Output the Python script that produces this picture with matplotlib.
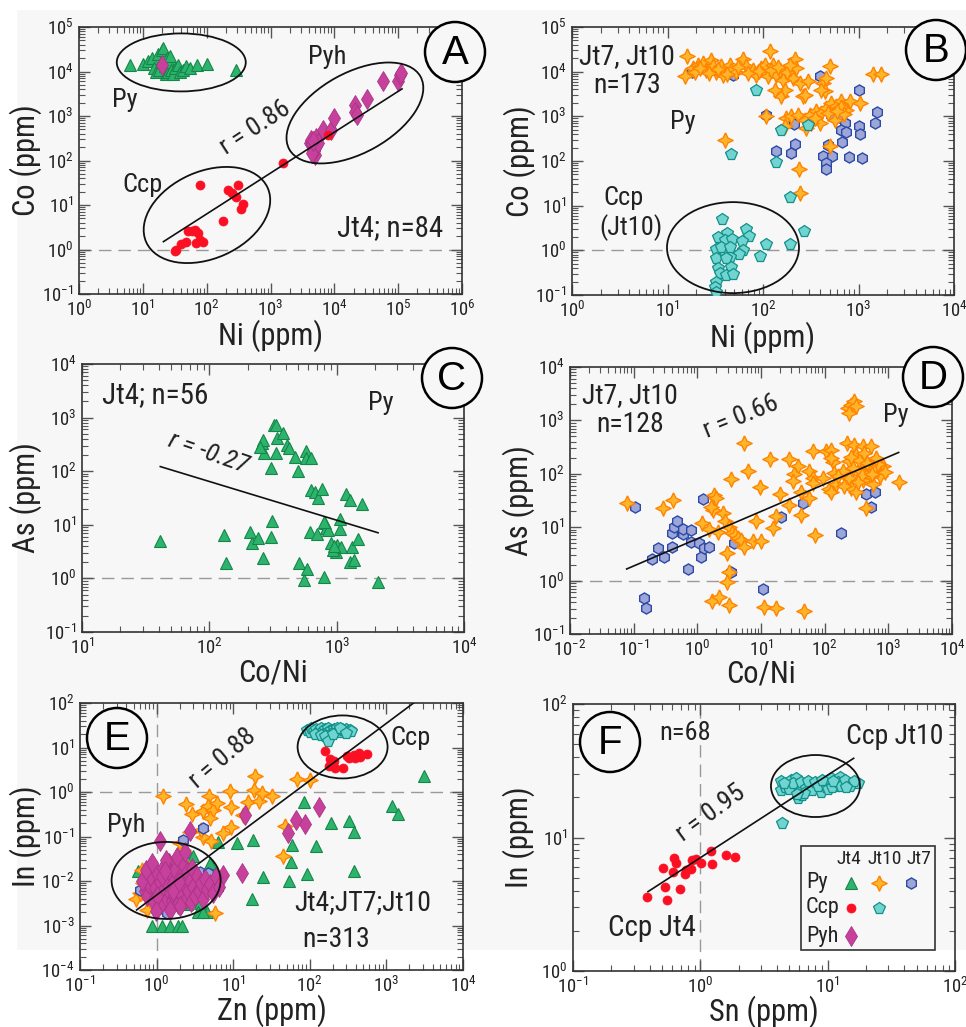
import numpy as np
import matplotlib
matplotlib.use('Agg')
import matplotlib.pyplot as plt
from matplotlib import font_manager
from matplotlib.patches import Ellipse, Rectangle
from matplotlib.transforms import ScaledTranslation
from matplotlib.ticker import LogLocator, NullFormatter

# pick a narrow sans face if one is installed (the figure uses an Arial-Narrow look)
FONT, STRETCH = 'Liberation Sans', 'normal'
narrow = [f for f in font_manager.fontManager.ttflist
          if f.style == 'normal' and f.weight in (400, 'normal', 'regular')
          and (f.stretch in ('condensed', 'semi-condensed') or 'Narrow' in f.name or 'Condensed' in f.name)]
for want in ['Liberation Sans Narrow', 'Arial Narrow', 'Roboto Condensed', 'Noto Sans', 'Noto Sans Condensed',
             'Open Sans Condensed', 'Open Sans', 'DejaVu Sans']:
    hit = [f for f in narrow if f.name == want]
    if hit:
        FONT, STRETCH = hit[0].name, hit[0].stretch
        break
plt.rcParams['font.family'] = [FONT, 'DejaVu Sans']
plt.rcParams['font.stretch'] = STRETCH
plt.rcParams['mathtext.fontset'] = 'custom'
plt.rcParams['mathtext.rm'] = FONT
plt.rcParams['mathtext.it'] = FONT + ':italic'
plt.rcParams['mathtext.default'] = 'regular'

# ---------------- data ----------------
# A: Co vs Ni, Jt4
a_py = [(6.2, 1.4e4), (10, 1.5e4), (12, 1.7e4), (14, 2.0e4), (15, 1.2e4), (16, 1.0e4), (17, 2.5e4),
        (18, 1.1e4), (19, 1.6e4), (20, 3.0e4), (21, 3.3e4), (22, 1.3e4), (23, 9e3), (24, 2.0e4),
        (25, 1.0e4), (26, 1.6e4), (27, 2.2e4), (28, 1.1e4), (30, 9e3), (32, 1.2e4), (35, 1.4e4),
        (38, 1.0e4), (42, 1.1e4), (48, 1.3e4), (55, 1.2e4), (70, 1.4e4), (100, 1.5e4), (290, 1.1e4)]
a_pyh = [(20, 1.4e4), (4100, 245), (4650, 174), (5200, 208), (4900, 135), (4350, 296), (5200, 320),
         (6600, 490), (9000, 490), (1.0e4, 890), (2.1e4, 1780), (2.1e4, 1260), (2.3e4, 1070),
         (3.2e4, 2350), (5.8e4, 6000), (1.0e5, 6000), (1.05e5, 8500), (1.1e5, 9300), (4500, 230),
         (4800, 160), (5000, 190), (4400, 150), (5500, 250), (4700, 280)]
a_ccp = [(78, 27.6), (310, 27.6), (215, 22), (245, 18.6), (290, 15), (370, 10.7), (350, 8.3),
         (180, 4.3), (51, 2.6), (65, 2.8), (73, 2.35), (58, 2.6), (48, 1.5), (40, 1.3), (33, 1.0),
         (32, 0.92), (69, 1.4), (87, 1.45), (78, 1.65), (1580, 87), (7900, 380)]
a_fit = [(21, 1.5), (1.15e5, 4070)]

# B: Co vs Ni, Jt7 + Jt10
b_py10 = [(16.0, 2.29e4), (15.1, 7.85e3), (18.5, 1.21e4), (20.9, 1.44e4), (23.5, 1.56e4), (25.5, 1.10e4),
          (28.8, 1.86e4), (29.9, 1.32e4), (32.5, 1.0e4), (36.6, 1.32e4), (38.1, 8.57e3), (44.8, 1.44e4),
          (46.6, 1.10e4), (52.6, 1.0e4), (61.8, 1.90e4), (66.9, 1.32e4), (78.6, 1.10e4), (85.2, 8.57e3),
          (96.1, 1.21e4), (117, 2.86e4), (104, 1.44e4), (113, 7.85e3), (127, 1.44e4), (138, 8.57e3),
          (150, 1.10e4), (162, 6.58e3), (156, 2.80e3), (169, 3.94e3), (132, 3.94e3), (215, 1.90e4),
          (223, 1.21e4), (206, 7.21e3), (242, 5.57e3), (262, 2.80e3), (296, 6.07e3), (273, 3.05e3),
          (425, 5.57e3), (499, 1.36e4), (460, 7.21e3), (442, 3.62e3), (408, 3.94e3), (1418, 9.02e3),
          (1734, 9.02e3), (107, 995), (39.7, 299), (175, 914), (198, 1.03e3), (232, 1.09e3), (273, 840),
          (308, 1.09e3), (362, 1.29e3), (408, 1.18e3), (460, 1.53e3), (520, 1.98e3), (586, 1.67e3),
          (661, 2.16e3), (746, 1.41e3), (808, 2.16e3), (1028, 1.98e3), (562, 840), (392, 706), (321, 706),
          (284, 546), (499, 212), (238, 65.8), (242, 19.1), (169, 594), (19.5, 1.0e4), (22, 1.2e4),
          (27, 9.5e3), (34, 1.15e4), (42, 9e3), (55, 1.25e4), (70, 9.5e3), (90, 1.05e4), (120, 1.1e4),
          (145, 1.3e4), (180, 1.0e4), (190, 1.4e4), (650, 1.6e3), (700, 1.1e3), (350, 900), (480, 1.2e3),
          (600, 1.3e3)]
b_py7 = [(18.2, 9.66e3), (48.5, 8.57e3), (175, 8.13e3), (398, 8.13e3), (1005, 3.81e3), (107, 1.09e3),
         (1563, 1.22e3), (1476, 706), (625, 963), (716, 706), (661, 484), (746, 437), (1012, 594),
         (1028, 407), (511, 1.09e3), (211, 683), (136, 164), (198, 150), (218, 243), (425, 131),
         (532, 131), (460, 89.5), (453, 65.8), (677, 261), (480, 223), (789, 122), (1096, 114)]
b_ccp10 = [(85.2, 3810), (156, 501), (296, 649), (46.6, 143), (138, 92.7), (193, 16.0), (267, 2.72),
           (37.5, 4.97), (66.9, 3.07), (42.0, 2.50), (33.8, 1.96), (39.7, 1.71), (47.7, 1.83), (71.3, 2.10),
           (60.8, 1.65), (107, 1.37), (190, 1.37), (32.5, 1.06), (38.7, 0.99), (61.8, 1.02), (56.1, 0.83),
           (45.5, 0.70), (32.5, 0.66), (40.6, 0.66), (93.8, 0.75), (33.8, 0.40), (46.6, 0.43), (35.7, 0.31),
           (41.3, 0.28), (48.5, 0.30), (32.5, 0.20), (31.2, 0.154), (31.9, 0.117), (36.6, 1.21), (44.8, 1.21)]

# C: As vs Co/Ni, Jt4 pyrite
c_py = [(41.2, 4.96), (130, 6.43), (134, 1.90), (210, 7.21), (216, 4.49), (241, 5.57), (264, 2.36),
        (307, 5.98), (312, 11.9), (307, 113), (268, 216), (259, 333), (264, 384), (322, 733), (332, 733),
        (342, 413), (379, 512), (408, 310), (423, 268), (336, 216), (468, 182), (497, 101), (578, 243),
        (571, 175), (633, 175), (633, 44.6), (672, 40.4), (713, 31.2), (771, 45.9), (805, 10.6), (820, 8.57),
        (855, 7.97), (614, 7.41), (701, 6.71), (908, 4.49), (994, 3.13), (1006, 4.18), (1089, 3.89),
        (1057, 8.20), (1069, 12.6), (1191, 37.1), (1265, 29.0), (1591, 24.4), (1327, 3.89), (1472, 5.33),
        (1279, 2.04), (1361, 2.19), (503, 1.95), (585, 1.47), (551, 0.95), (796, 1.04), (2113, 0.86),
        (935, 3.37), (250, 280), (800, 11.5), (960, 4.0)]
c_fit = [(41.2, 122), (2113, 7.1)]

# D: As vs Co/Ni, Jt7 + Jt10 pyrite
d_py7 = [(0.105, 23.7), (0.192, 2.51), (0.244, 4.04), (0.303, 2.82), (0.400, 4.22), (0.400, 7.94),
         (0.435, 10.3), (0.480, 13.3), (0.589, 7.50), (0.589, 9.44), (0.796, 8.91), (0.796, 5.38),
         (0.705, 1.63), (1.05, 5.16), (1.14, 2.74), (1.24, 33.5), (1.29, 4.04), (1.54, 4.22), (0.147, 0.466),
         (0.156, 0.303), (3.38, 1.47), (3.81, 5.16), (10.6, 0.687), (20.6, 15.4), (45.1, 29.0), (181, 7.72),
         (446, 42.2), (534, 24.4), (618, 45.3)]
d_py10 = [(0.0776, 28.2), (0.285, 22.7), (0.420, 32.6), (5.35, 376), (14.0, 191), (27.9, 188), (37.6, 137),
          (33.4, 100), (31.4, 71.8), (56.1, 111), (66.4, 82.9), (93.1, 82.9), (6.18, 114), (3.38, 80.6),
          (9.77, 56.2), (1.17, 12.2), (1.51, 9.31), (1.85, 40.4), (1.96, 35.0), (1.74, 21.1), (1.64, 24.4),
          (2.56, 18.3), (2.75, 13.1), (3.18, 10.3), (3.51, 7.72), (3.95, 7.18), (4.30, 6.22), (4.86, 5.79),
          (5.47, 4.34), (2.08, 8.30), (8.34, 13.3), (15.2, 9.58), (17.2, 16.5), (20.1, 41.0), (27.9, 26.2),
          (42.5, 17.0), (71.3, 7.18), (7.59, 5.62), (10.0, 5.47), (42.5, 44.7), (56.1, 35.0), (66.4, 66.8),
          (2.92, 3.26), (3.10, 1.47), (2.92, 0.957), (1.70, 0.422), (2.16, 0.501), (3.10, 0.350),
          (11.3, 0.316), (17.2, 0.312), (48.0, 0.274), (64.9, 262), (105, 262), (126, 282), (134, 163),
          (142, 103), (118, 51.6), (126, 45.3), (151, 65.0), (222, 376), (293, 350), (395, 326), (534, 326),
          (244, 170), (310, 227), (244, 82.9), (259, 53.8), (310, 46.6), (395, 77.2), (446, 111), (503, 137),
          (625, 170), (680, 111), (740, 89.1), (534, 89.1), (351, 119), (446, 22.7), (1452, 68.8),
          (230, 1702), (259, 1966), (293, 2270), (244, 1373), (310, 1832), (192, 111), (815, 137), (568, 65.0),
          (126, 197), (200, 60), (280, 130), (350, 180), (420, 250), (600, 130), (700, 150), (160, 90),
          (380, 95), (470, 160), (550, 100), (650, 200), (260, 210), (330, 70), (900, 110)]
d_fit = [(0.0776, 1.65), (1452, 251)]

# E: In vs Zn, all sulphides
e_py4 = [(3062, 2.32), (1180, 0.474), (1400, 0.324), (82.8, 0.583), (188, 0.200), (321, 0.218), (373, 0.123),
         (58.3, 0.0650), (121, 0.0597), (18.4, 0.0843), (11.1, 0.0710), (6.42, 0.0747), (57.1, 0.0261),
         (24.8, 0.0122), (54.3, 0.0102), (91.6, 0.0145), (373, 0.0172), (17.5, 0.00403), (5.00, 0.0252),
         (4.52, 0.0126), (5.52, 0.00891), (3.70, 0.00316), (4.52, 0.00205), (0.863, 0.000995),
         (1.17, 0.000995), (1.50, 0.000995), (1.93, 0.000995), (2.13, 0.000995), (0.578, 0.0169),
         (2.48, 0.0460), (3.03, 0.0356), (3.5, 0.002), (4.0, 0.002), (2.5, 0.003)]
e_py10 = [(1.23, 0.796), (2.43, 0.544), (2.88, 0.324), (4.01, 0.366), (4.90, 0.796), (4.75, 0.491),
          (5.52, 0.399), (5.00, 0.259), (6.11, 0.564), (9.12, 1.03), (9.30, 0.458), (19.4, 2.24), (18.8, 1.12),
          (15.8, 0.583), (21.4, 0.614), (23.6, 0.946), (31.9, 0.824), (67.7, 1.95), (101, 1.89), (13.3, 0.308),
          (9.40, 0.162), (7.31, 0.119), (4.09, 0.100), (5.09, 0.0773), (3.77, 0.142), (2.74, 0.125),
          (2.03, 0.0710), (47.7, 0.168), (44.5, 0.0356), (3.34, 0.0106), (5.81, 0.00188), (0.640, 0.0178),
          (0.540, 0.00389), (0.673, 0.00891), (1.00, 0.00316), (1.36, 0.0212), (1.66, 0.0150), (2.03, 0.0106),
          (2.48, 0.00750), (0.908, 0.00750), (0.743, 0.00224), (1.11, 0.00376), (1.50, 0.0106), (1.83, 0.00316),
          (2.24, 0.0502), (0.8, 0.012), (1.2, 0.006), (0.6, 0.0055), (1.4, 0.0025), (2.6, 0.02), (3.0, 0.012),
          (0.95, 0.02)]
e_py7 = [(4.01, 0.154), (2.24, 0.0843), (3.70, 0.0163), (4.75, 0.0155), (3.41, 0.00689), (6.41, 0.00689),
         (0.608, 0.00631), (1.36, 0.00188), (1.83, 0.0075)]
e_pyh = [(14.3, 0.308), (130, 0.458), (66.4, 0.230), (87.1, 0.193), (52.7, 0.119), (12.9, 0.0150),
         (7.31, 0.0137), (2.74, 0.130), (1.11, 0.0773), (0.70, 0.0060), (0.75, 0.0045), (0.80, 0.0085),
         (0.85, 0.012), (0.90, 0.0035), (0.95, 0.0070), (1.00, 0.0150), (1.05, 0.0050), (1.10, 0.0095),
         (1.15, 0.0030), (1.20, 0.0200), (1.25, 0.0065), (1.30, 0.0110), (1.35, 0.0040), (1.40, 0.0080),
         (1.45, 0.0260), (1.50, 0.0055), (1.55, 0.0140), (1.60, 0.0035), (1.65, 0.0090), (1.70, 0.0045),
         (1.75, 0.0180), (1.80, 0.0070), (1.90, 0.0030), (2.00, 0.0120), (2.10, 0.0050), (2.20, 0.0240),
         (2.30, 0.0085), (2.40, 0.0040), (2.50, 0.0160), (2.60, 0.0060), (2.70, 0.0100), (2.80, 0.0033),
         (2.90, 0.0200), (3.00, 0.0075), (3.20, 0.0045), (3.40, 0.0130), (3.60, 0.0060), (3.80, 0.0090),
         (4.00, 0.0040), (4.30, 0.0110), (4.60, 0.0065), (5.00, 0.0085), (5.50, 0.0055), (6.00, 0.0120),
         (6.50, 0.0075), (0.65, 0.0100), (0.72, 0.0180), (0.88, 0.0250), (1.02, 0.0045), (1.18, 0.0130),
         (1.33, 0.0300), (1.48, 0.0022), (1.62, 0.0060), (1.85, 0.0350), (2.05, 0.0028), (2.35, 0.0450),
         (1.95, 0.0095), (0.98, 0.0021), (1.28, 0.0170)]
e_ccp10 = [(92, 25), (100, 22), (105, 27), (112, 24), (120, 26), (128, 21), (135, 25), (142, 28), (150, 23),
           (158, 26), (165, 22), (172, 27), (180, 24), (188, 25), (195, 21), (205, 26), (215, 23), (225, 27),
           (235, 24), (248, 22), (260, 26), (272, 25), (285, 23), (300, 26), (315, 24), (330, 25), (340, 23),
           (118, 20), (140, 19), (160, 18), (175, 13.8), (200, 20), (250, 28), (300, 21)]
e_ccp4 = [(159, 8.20), (185, 5.51), (204, 4.89), (176, 3.77), (215, 3.46), (271, 3.40), (305, 6.33),
          (337, 6.11), (373, 6.90), (412, 6.55), (456, 6.11), (557, 7.27), (392, 5.81), (321, 5.81), (433, 7.52)]
e_fit = [(0.549, 0.00224), (2265, 100)]

# F: In vs Sn, chalcopyrite
f_ccp4 = [(0.381, 3.60), (0.524, 4.29), (0.508, 5.94), (0.547, 3.40), (0.610, 5.48), (0.621, 6.98),
          (0.640, 6.40), (0.687, 4.09), (0.752, 5.33), (0.766, 5.71), (0.849, 5.78), (0.918, 6.86),
          (1.02, 6.48), (1.22, 7.92), (1.24, 6.30), (1.60, 7.35), (1.88, 7.18), (0.863, 6.78)]
f_ccp10 = [(4.31, 26.7), (4.31, 22.7), (4.87, 25.2), (5.17, 27.0), (5.59, 27.7), (5.49, 24.7), (6.01, 22.7),
           (5.83, 19.6), (6.31, 20.8), (6.58, 24.7), (7.20, 25.5), (8.12, 23.8), (8.63, 25.8), (9.17, 24.7),
           (8.90, 22.0), (9.73, 23.8), (10.6, 27.7), (11.3, 25.5), (11.6, 24.3), (12.5, 28.2), (13.1, 25.5),
           (14.4, 25.2), (15.7, 25.5), (17.2, 25.5), (7.64, 24.7), (10.3, 24.7), (4.40, 12.8), (4.6, 24),
           (5.0, 23), (5.3, 25.5), (6.2, 26), (6.8, 23.5), (7.0, 26.5), (7.5, 22.5), (8.0, 26.2), (8.4, 24.2),
           (9.5, 25.5), (10.0, 23.2), (10.8, 24.0), (12.0, 26.0), (12.8, 24.5), (13.8, 26.8), (15.0, 24.2),
           (16.2, 26.5), (6.5, 21.5), (5.7, 21.0), (4.5, 25.8), (9.0, 27.0), (11.0, 26.5), (14.0, 23.8)]
f_fit = [(0.388, 3.93), (16.0, 39.2)]

# ---------------- styles ----------------
W, H, DPI = 966, 1027, 100
BG = '#f7f7f7'
STAR = [(0, 1), (0.32, 0.32), (1, 0), (0.32, -0.32), (0, -1), (-0.32, -0.32), (-1, 0), (-0.32, 0.32), (0, 1)]
sty = {
    'py4': dict(marker='^', ms=8.5, mfc='#2db46c', mec='#15864a', mew=0.8),
    'py10': dict(marker=STAR, ms=11, mfc='#ffb52a', mec='#ff8400', mew=1.0),
    'py7': dict(marker='h', ms=8, mfc='#9ea6d8', mec='#2a49a8', mew=1.0),
    'ccp4': dict(marker='o', ms=6.5, mfc='#fb0f23', mec='#fb0f23', mew=0.5),
    'ccp10': dict(marker='p', ms=8.5, mfc='#70d4d0', mec='#139089', mew=0.9),
    'pyh4': dict(marker='d', ms=10, mfc='#c7409c', mec='#a83584', mew=0.6),
}
LABEL = 22
NOTE = 20

fig = plt.figure(figsize=(W / DPI, H / DPI), dpi=DPI, facecolor='white')
fig.add_artist(Rectangle((17 / W, 1 - 950 / H), 1 - 17 / W, 940 / H, transform=fig.transFigure,
                         facecolor=BG, edgecolor='none', zorder=-10))


def px_axes(l, t, r, b):
    return fig.add_axes([l / W, 1 - b / H, (r - l) / W, (b - t) / H])


def setup(ax, xlim, ylim, xlabel, ylabel, xlab_y, ylab_x):
    ax.set_xscale('log')
    ax.set_yscale('log')
    ax.set_xlim(xlim)
    ax.set_ylim(ylim)
    for axis in (ax.xaxis, ax.yaxis):
        axis.set_major_locator(LogLocator(base=10, numticks=20))
        axis.set_minor_locator(LogLocator(base=10, subs=np.arange(2, 10), numticks=20))
        axis.set_minor_formatter(NullFormatter())
    ax.tick_params(which='both', direction='in', top=True, right=True, colors='#555', labelcolor='#222')
    ax.tick_params(which='major', length=8, width=1, labelsize=13.5, pad=4)
    ax.tick_params(which='minor', length=4, width=0.8)
    for s in ax.spines.values():
        s.set_color('#333')
        s.set_linewidth(1.2)
    ax.set_facecolor('none')
    ax.set_xlabel(xlabel, fontsize=LABEL, color='#222')
    ax.set_ylabel(ylabel, fontsize=LABEL, color='#222')
    ax.xaxis.set_label_coords(0.5, xlab_y)
    ax.yaxis.set_label_coords(ylab_x, 0.5)


def pts(ax, data, key, z=3):
    a = np.array(data)
    ax.plot(a[:, 0], a[:, 1], ls='none', zorder=z, **sty[key])


def fit(ax, data):
    a = np.array(data)
    ax.plot(a[:, 0], a[:, 1], color='#111', lw=1.2, zorder=6)


def ring(ax, cx, cy, w, h, ang=0):
    tr = fig.dpi_scale_trans + ScaledTranslation(cx, cy, ax.transData)
    ax.add_artist(Ellipse((0, 0), w / DPI, h / DPI, angle=ang, transform=tr, fill=False,
                          ec='#111', lw=1.3, clip_on=False, zorder=7))


def dashed(ax, h=None, v=None):
    kw = dict(color='#9a9a9a', lw=1.0, dashes=(9, 5), zorder=1)
    if h is not None:
        ax.axhline(h, **kw)
    if v is not None:
        ax.axvline(v, **kw)


def note(ax, x, y, s, size=NOTE, **kw):
    ax.text(x, y, s, transform=ax.transAxes, fontsize=size, color='#222', ha='center', va='center',
            zorder=8, **kw)


def badge(cx, cy, letter):
    fig.add_artist(Ellipse((cx / W, 1 - cy / H), 60 / W, 60 / H, transform=fig.transFigure,
                           facecolor=BG, edgecolor='black', lw=1.8, zorder=10))
    fig.text(cx / W, 1 - cy / H - 1.5 / H, letter, fontsize=29, ha='center', va='center', zorder=11,
             family=['Liberation Sans', 'DejaVu Sans'], stretch='normal')


# ---------------- A ----------------
ax = px_axes(79, 27, 462, 294)
setup(ax, (1, 1e6), (0.1, 1e5), 'Ni (ppm)', 'Co (ppm)', -0.094, -0.097)
dashed(ax, h=1)
pts(ax, a_py, 'py4')
pts(ax, a_pyh, 'pyh4', 4)
pts(ax, a_ccp, 'ccp4', 4)
fit(ax, a_fit)
ring(ax, 40, 1.6e4, 129, 58)
ring(ax, 101, 5.96, 133, 87, 24)
ring(ax, 2.1e4, 1170, 150, 80, 29)
note(ax, 0.120, 0.727, 'Py', 19)
note(ax, 0.648, 0.888, 'Pyh', 19)
note(ax, 0.167, 0.408, 'Ccp', 19)
note(ax, 0.460, 0.622, 'r = 0.86', 19, rotation=33)
note(ax, 0.812, 0.247, 'Jt4; n=84', 21)
badge(455, 52, 'A')

# ---------------- B ----------------
ax = px_axes(572, 27, 954, 295)
setup(ax, (1, 1e4), (0.1, 1e5), 'Ni (ppm)', 'Co (ppm)', -0.097, -0.094)
dashed(ax, h=1)
pts(ax, b_py7, 'py7')
pts(ax, b_py10, 'py10', 4)
pts(ax, b_ccp10, 'ccp10', 5)
ring(ax, 48.5, 1.15, 132, 91)
note(ax, 0.144, 0.888, 'Jt7, Jt10')
note(ax, 0.144, 0.780, 'n=173')
note(ax, 0.291, 0.646, 'Py', 19)
note(ax, 0.134, 0.362, 'Ccp', 19)
note(ax, 0.154, 0.250, '(Jt10)', 19)
badge(936, 50, 'B')

# ---------------- C ----------------
ax = px_axes(82, 364, 464, 632)
setup(ax, (10, 1e4), (0.1, 1e4), 'Co/Ni', 'As (ppm)', -0.100, -0.105)
dashed(ax, h=1)
pts(ax, c_py, 'py4')
fit(ax, c_fit)
note(ax, 0.191, 0.884, 'Jt4; n=56', 21)
note(ax, 0.783, 0.854, 'Py', 19)
note(ax, 0.330, 0.668, 'r = -0.27', 19, rotation=-19, style='italic')
badge(452, 378, 'C')

# ---------------- D ----------------
ax = px_axes(570, 367, 952, 634)
setup(ax, (0.01, 1e4), (0.1, 1e4), 'Co/Ni', 'As (ppm)', -0.094, -0.092)
dashed(ax, h=1)
pts(ax, d_py7, 'py7')
pts(ax, d_py10, 'py10', 4)
fit(ax, d_fit)
note(ax, 0.157, 0.895, 'Jt7, Jt10')
note(ax, 0.157, 0.783, 'n=128')
note(ax, 0.448, 0.813, 'r = 0.66', 19, rotation=22)
note(ax, 0.853, 0.820, 'Py', 19)
badge(933, 377, 'D')

# ---------------- E ----------------
ax = px_axes(80, 703, 463, 970)
setup(ax, (0.1, 1e4), (1e-4, 1e2), 'Zn (ppm)', 'In (ppm)', -0.090, -0.099)
dashed(ax, h=1, v=1)
pts(ax, e_py4, 'py4')
pts(ax, e_py10, 'py10', 4)
pts(ax, e_py7, 'py7', 4)
pts(ax, e_pyh, 'pyh4', 5)
pts(ax, e_ccp10, 'ccp10', 5)
pts(ax, e_ccp4, 'ccp4', 5)
fit(ax, e_fit)
ring(ax, 1.33, 0.0103, 109, 77)
ring(ax, 268, 10.3, 90, 63)
note(ax, 0.373, 0.794, 'r = 0.88', 19, rotation=40)
note(ax, 0.864, 0.869, 'Ccp', 19)
note(ax, 0.120, 0.543, 'Pyh', 19)
note(ax, 0.739, 0.251, 'Jt4;JT7;Jt10')
note(ax, 0.668, 0.116, 'n=313')
badge(117, 738, 'E')

# ---------------- F ----------------
ax = px_axes(573, 704, 955, 971)
setup(ax, (0.1, 100), (1, 100), 'Sn (ppm)', 'In (ppm)', -0.090, -0.099)
dashed(ax, v=1)
pts(ax, f_ccp4, 'ccp4')
pts(ax, f_ccp10, 'ccp10')
fit(ax, f_fit)
ring(ax, 8.02, 24.3, 89, 62)
note(ax, 0.293, 0.891, 'n=68', 19)
note(ax, 0.843, 0.880, 'Ccp Jt10')
note(ax, 0.361, 0.592, 'r = 0.95', 19, rotation=36)
note(ax, 0.207, 0.161, 'Ccp Jt4', 21)
badge(610, 742, 'F')

# legend box drawn by hand (grid of mineral x deposit)
ax.add_patch(Rectangle((0.597, 0.079), 0.351, 0.389, transform=ax.transAxes, facecolor=BG,
                       edgecolor='#333', lw=1.2, zorder=9))
head_x = {'Jt4': 0.722, 'Jt10': 0.816, 'Jt7': 0.905}
col_x = {'Jt4': 0.728, 'Jt10': 0.801, 'Jt7': 0.885}
row_y = {'Py': 0.330, 'Ccp': 0.236, 'Pyh': 0.131}
for name, cx in head_x.items():
    ax.text(cx, 0.419, name, transform=ax.transAxes, fontsize=14, ha='center', va='center',
            color='#222', zorder=10)
for name, ry in row_y.items():
    ax.text(0.610, ry, name, transform=ax.transAxes, fontsize=16, ha='left', va='center',
            color='#222', zorder=10)
legend_cells = [('Py', 'Jt4', 'py4'), ('Py', 'Jt10', 'py10'), ('Py', 'Jt7', 'py7'),
                ('Ccp', 'Jt4', 'ccp4'), ('Ccp', 'Jt10', 'ccp10'), ('Pyh', 'Jt4', 'pyh4')]
for row, col, key in legend_cells:
    ax.plot([col_x[col]], [row_y[row]], transform=ax.transAxes, ls='none', clip_on=False, zorder=10,
            **sty[key])

fig.savefig('out.png', dpi=DPI, facecolor='white')
